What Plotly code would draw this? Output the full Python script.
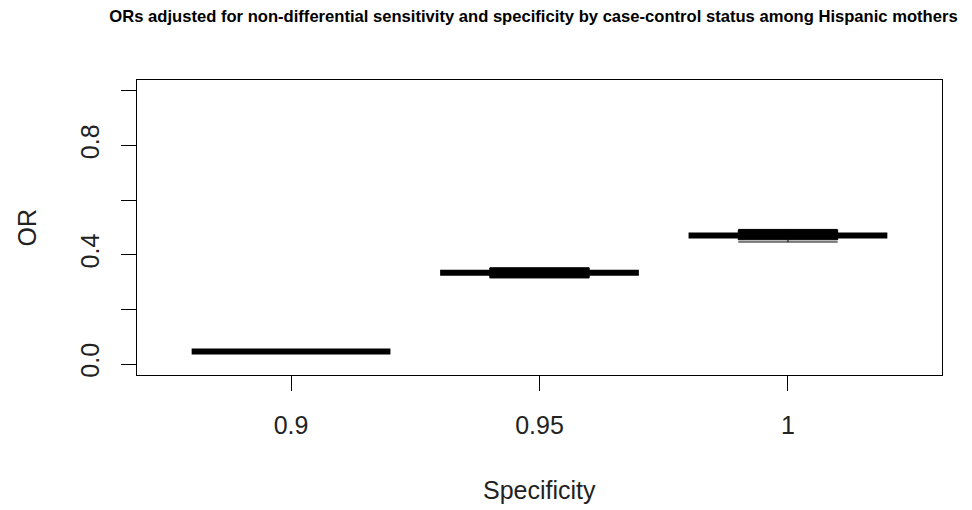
import plotly.graph_objects as go

# Data
specificity = ["0.9", "0.95", "1"]
q1 = [0.046, 0.316, 0.455]
median = [0.046, 0.334, 0.471]
q3 = [0.046, 0.352, 0.491]
lower = [0.046, 0.316, 0.447]
upper = [0.046, 0.352, 0.493]

y_ticks = [0.0, 0.2, 0.4, 0.6, 0.8, 1.0]
y_ticktext = ["0.0", "", "0.4", "", "0.8", ""]

positions = list(range(1, len(specificity) + 1))
BOX_W = 0.4
MED_HALF = 0.4

fig = go.Figure()
for i, p in enumerate(positions):
    fig.add_trace(go.Box(
        x=[p], q1=[q1[i]], median=[median[i]], q3=[q3[i]],
        lowerfence=[lower[i]], upperfence=[upper[i]],
        width=BOX_W, whiskerwidth=1,
        fillcolor="black", line=dict(color="black", width=1),
        boxpoints=False, hoverinfo="skip", showlegend=False,
    ))
    fig.add_trace(go.Scatter(
        x=[p - MED_HALF, p + MED_HALF], y=[median[i], median[i]],
        mode="lines", line=dict(color="black", width=6),
        hoverinfo="skip", showlegend=False,
    ))

FONT = "Liberation Sans, Arial, sans-serif"
fig.update_layout(
    width=972, height=510,
    margin=dict(l=137, r=30, t=80, b=135),
    paper_bgcolor="white", plot_bgcolor="white",
    font=dict(family=FONT, size=25, color="black"),
    title=dict(
        text="<b>ORs adjusted for non-differential sensitivity and specificity by case-control status among Hispanic mothers</b>",
        font=dict(family=FONT, size=16.6, color="black"),
        xref="container", yref="container",
        x=533.5 / 972, y=1 - 16 / 510, xanchor="center", yanchor="middle",
    ),
    xaxis=dict(
        range=[0.38, 3.62], tickmode="array", tickvals=positions, ticktext=specificity,
        showgrid=False, zeroline=False, showline=True, mirror=True,
        linecolor="black", linewidth=1, ticks="outside", ticklen=15,
        tickcolor="black", tickwidth=1, ticklabelstandoff=13,
        tickfont=dict(size=25, color="#222"),
    ),
    yaxis=dict(
        range=[-0.04, 1.04], tickmode="array", tickvals=y_ticks, ticktext=y_ticktext,
        showgrid=False, zeroline=False, showline=True, mirror=True,
        linecolor="black", linewidth=1, ticks="outside", ticklen=15,
        tickcolor="black", tickwidth=1, tickangle=-90, ticklabelstandoff=12,
        tickfont=dict(size=25, color="#222"),
    ),
    annotations=[
        dict(text="OR", xref="paper", yref="paper", x=(26 - 137) / 805, y=0.5,
             textangle=-90, showarrow=False, xanchor="center", yanchor="middle",
             font=dict(size=25, color="#222")),
        dict(text="Specificity", xref="paper", yref="paper", x=(539.5 - 137) / 805,
             y=(375 - 490) / 295, showarrow=False, xanchor="center", yanchor="middle",
             font=dict(size=25, color="#222")),
    ],
)

fig.write_html("out.html")
